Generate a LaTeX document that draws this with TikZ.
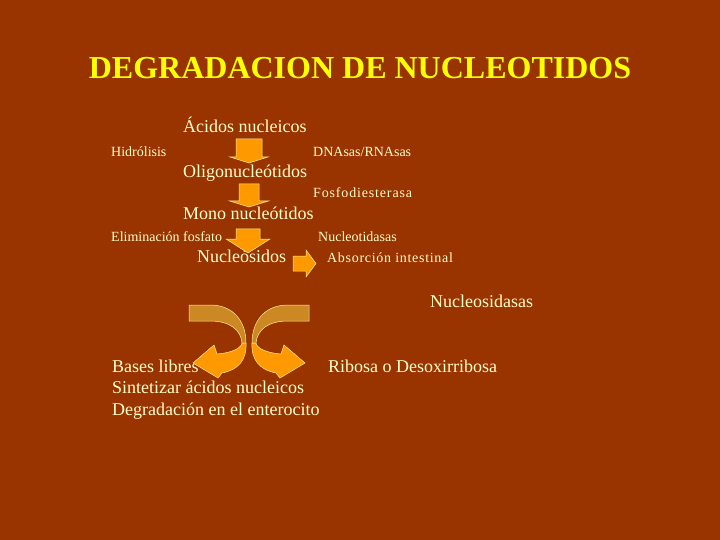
\documentclass[tikz,border=0pt]{standalone}
\usepackage{fontspec}
\setmainfont{Liberation Serif}
\usepackage{xcolor}
\definecolor{fondo}{RGB}{153,51,0}
\definecolor{titulo}{RGB}{255,255,0}
\definecolor{crema}{RGB}{255,255,204}
\definecolor{naranja}{RGB}{255,153,0}
\definecolor{oscuro}{RGB}{204,136,34}
\definecolor{borde}{RGB}{255,236,150}

\newcommand{\flechabaja}[5]{%
  \begin{scope}[shift={(#1)}]
    \draw[bloque] (-#2,0) -- (#2,0) -- (#2,#4) -- (#3,#4) -- (0,#5) -- (-#3,#4) -- (-#2,#4) -- cycle;
  \end{scope}}
\newcommand{\flechacurva}{%
  \draw[bloque,fill=oscuro] (189,305) -- (210,305) .. controls (234,305) and (246,322) .. (246,343)
    -- (242,343) .. controls (241,330) and (230,321) .. (210,321) -- (189,321) -- cycle;
  \draw[bloque] (246,343) .. controls (247,360) and (238,370) .. (222,373) -- (218,378) -- (193,363)
    -- (214,345) -- (217,354) .. controls (230,353) and (241,349) .. (242,343) -- cycle;}

\begin{document}
\begin{tikzpicture}[x=1pt,y=-1pt,
    texto/.style={anchor=base west,inner sep=0pt,text=crema,font=\fontsize{18}{20}\selectfont},
    nota/.style={texto,font=\fontsize{14}{16}\selectfont},
    bloque/.style={fill=naranja,draw=borde,line width=0.5pt}]
    \fill[fondo] (0,0) rectangle (720,540);
    \useasboundingbox (0,0) rectangle (720,540);
    \node[anchor=base,inner sep=0pt,text=titulo,font=\fontsize{32}{34}\selectfont\bfseries] (titulo) at (360,79) {DEGRADACION DE NUCLEOTIDOS};
    \node[texto] (acidos) at (183,133) {Ácidos nucleicos};
    \node[nota] (hidrolisis) at (111,157) {Hidrólisis};
    \node[nota] (dnasas) at (313,157) {DNAsas/RNAsas};
    \node[texto] (oligo) at (183,178) {Oligonucleótidos};
    \node[nota,font=\fontsize{14}{16}\selectfont\addfontfeature{LetterSpace=6}] (fosfo) at (313,198) {Fosfodiesterasa};
    \node[texto] (mono) at (183,220) {Mono nucleótidos};
    \node[nota] (elim) at (111,241) {Eliminación fosfato};
    \node[nota] (nucleotidasas) at (318,241) {Nucleotidasas};
    \node[texto] (nucleosidos) at (197,262) {Nucleósidos};
    \node[nota,font=\fontsize{14}{16}\selectfont\addfontfeature{LetterSpace=5}] (absorcion) at (327,262) {Absorción intestinal};
    \node[texto] (nucleosidasas) at (430,307) {Nucleosidasas};
    \node[texto] (bases) at (112,372) {Bases libres};
    \node[texto] (sintesis) at (112,393.5) {Sintetizar ácidos nucleicos};
    \node[texto] (enterocito) at (112,415) {Degradación en el enterocito};
    \node[texto] (ribosa) at (328,372) {Ribosa o Desoxirribosa};
    \coordinate (f1) at (249,139);
    \coordinate (f2) at (249,184);
    \coordinate (f3) at (248,229);
    \flechabaja{f1}{13}{19}{18}{24}
    \flechabaja{f2}{10}{19.5}{17}{23}
    \flechabaja{f3}{12}{22}{10}{24}
    \draw[bloque] (293,256) -- (306,256) -- (306,250) -- (316,263.5) -- (306,277) -- (306,271) -- (293,271) -- cycle;
    \flechacurva
    \begin{scope}[shift={(498,0)},xscale=-1]
        \flechacurva
    \end{scope}
\end{tikzpicture}
\end{document}
